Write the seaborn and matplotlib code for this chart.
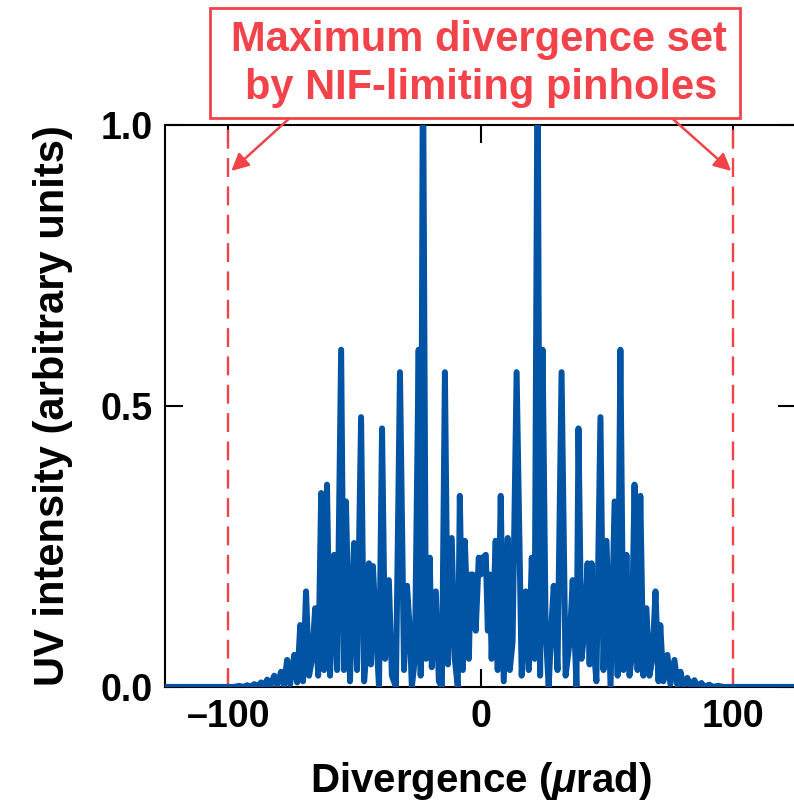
import pandas as pd
import matplotlib
matplotlib.use("Agg")
import matplotlib.pyplot as plt
import seaborn as sns
from matplotlib.patches import Rectangle

# data (divergence in urad, UV intensity)
div_left = [-125, -97.6, -95.7, -94.1, -92.5, -91.3, -89.7, -88.5, -87.0, -85.8,
            -84.6, -83.4, -81.8, -80.6, -79.1, -77.9, -76.7, -75.5, -73.9, -72.7,
            -71.5, -70.4, -69.2, -68.0, -66.8, -65.6, -64.4, -63.2, -62.1, -60.9,
            -59.7, -58.1, -56.9, -55.3, -54.2, -53.4, -51.8, -50.2, -49.0, -47.4,
            -46.2, -45.5, -44.3, -43.5, -42.7, -41.5, -40.3, -39.1, -37.9, -36.4,
            -35.2, -33.6, -32.0, -30.4, -29.2, -28.1, -27.3, -26.1, -24.6, -23.8,
            -22.9, -21.7, -20.2, -19.4, -17.8, -16.6, -15.4, -14.2, -13.0, -11.5,
            -10.3, -9.1, -8.3, -7.1, -6.3, -4.7, -4.0, -3.2, -2.0, -0.8, 0.0]
uv_left = [0.0, 0.0, 0.002, 0.0, 0.003, 0.0, 0.005, 0.0, 0.008, 0.001,
           0.013, 0.002, 0.02, 0.003, 0.027, 0.003, 0.048, 0.005, 0.057, 0.008,
           0.11, 0.01, 0.17, 0.02, 0.05, 0.14, 0.02, 0.345, 0.03, 0.36,
           0.02, 0.235, 0.03, 0.60, 0.03, 0.33, 0.01, 0.256, 0.03, 0.48,
           0.01, 0.05, 0.22, 0.04, 0.215, 0.10, 0.0, 0.46, 0.05, 0.19,
           0.02, 0.0, 0.56, 0.03, 0.18, 0.10, 0.0, 0.05, 0.60, 0.02,
           1.15, 0.05, 0.23, 0.035, 0.17, 0.01, 0.0, 0.56, 0.04, 0.265,
           0.05, 0.0, 0.34, 0.03, 0.26, 0.05, 0.20, 0.20, 0.10, 0.23, 0.20]

div_right = [0.8, 2.0, 2.8, 3.6, 4.3, 5.9, 6.7, 7.9, 9.1, 10.7,
             11.5, 12.6, 14.2, 16.2, 17.8, 19.0, 20.2, 21.3, 22.5, 23.5,
             24.5, 25.7, 26.9, 28.1, 28.9, 30.4, 32.0, 33.6, 35.2, 36.4,
             37.9, 38.7, 39.9, 41.1, 42.3, 43.1, 43.9, 45.1, 45.8, 47.4,
             48.6, 49.8, 51.4, 53.0, 54.2, 55.3, 56.5, 57.7, 58.9, 59.7,
             60.9, 62.1, 63.2, 64.4, 65.6, 66.8, 68.0, 69.2, 70.4, 71.1,
             72.3, 73.9, 75.1, 76.7, 77.9, 79.1, 80.2, 81.8, 83.0, 84.6,
             85.8, 87.4, 88.5, 90.5, 92.1, 94.1, 96.0, 125]
uv_right = [0.23, 0.235, 0.10, 0.20, 0.05, 0.26, 0.03, 0.34, 0.01, 0.265,
            0.03, 0.08, 0.56, 0.02, 0.17, 0.03, 0.23, 0.05, 1.15, 0.02,
            0.60, 0.10, 0.0, 0.12, 0.18, 0.03, 0.56, 0.02, 0.08, 0.19,
            0.0, 0.46, 0.05, 0.10, 0.22, 0.04, 0.22, 0.05, 0.01, 0.48,
            0.03, 0.26, 0.0, 0.33, 0.02, 0.60, 0.03, 0.235, 0.02, 0.05,
            0.36, 0.03, 0.34, 0.02, 0.14, 0.02, 0.05, 0.17, 0.01, 0.11,
            0.01, 0.057, 0.005, 0.048, 0.003, 0.027, 0.002, 0.016, 0.002, 0.012,
            0.001, 0.007, 0.0, 0.004, 0.0, 0.002, 0.0, 0.0]

pinhole_limits = [-100, 100]
x_ticks = [-100, 0, 100]
x_ticklabels = ["\u2013100", "0", "100"]
y_ticks = [0.0, 0.5, 1.0]
y_ticklabels = ["0.0", "0.5", "1.0"]

df = pd.DataFrame({"div": div_left + div_right, "uv": uv_left + uv_right})

BLUE = "#0153a4"
RED = "#f2434b"

sns.set_theme(style="ticks")
plt.rcParams["font.family"] = ["Liberation Sans", "DejaVu Sans"]
plt.rcParams["mathtext.fontset"] = "custom"
plt.rcParams["mathtext.it"] = "Liberation Sans:italic:bold"
plt.rcParams["mathtext.rm"] = "Liberation Sans:bold"
plt.rcParams["text.color"] = "black"
plt.rcParams["axes.labelcolor"] = "black"
plt.rcParams["xtick.color"] = "black"
plt.rcParams["ytick.color"] = "black"

fig = plt.figure(figsize=(7.94, 8.11), dpi=100)
ax = fig.add_axes([0.208, 0.153, 0.795, 0.693])

# pinhole limits
for lim in pinhole_limits:
    ax.axvline(lim, color=RED, lw=1.7, ls=(0, (8, 4)), zorder=1)

sns.lineplot(data=df, x="div", y="uv", ax=ax, color=BLUE, lw=4.3,
             estimator=None, sort=False, zorder=3)

ax.set_xlim(-125, 125)
ax.set_ylim(0, 1.0)
ax.set_xticks(x_ticks)
ax.set_xticklabels(x_ticklabels)
ax.set_yticks(y_ticks)
ax.set_yticklabels(y_ticklabels)
ax.tick_params(direction="in", length=13, width=1.5, top=True, right=True,
               labelsize=27, pad=9, color="black", labelcolor="black")
for lab in ax.get_xticklabels() + ax.get_yticklabels():
    lab.set_fontweight("bold")
for sp in ax.spines.values():
    sp.set_linewidth(1.5)
    sp.set_color("black")

ax.set_xlabel(r"Divergence ($\mu$rad)", fontsize=29, fontweight="bold", labelpad=18)
ax.set_ylabel("UV intensity (arbitrary units)", fontsize=30, fontweight="bold", labelpad=20)

# callout box
fig.patches.append(Rectangle((0.2645, 0.8545), 0.6675, 0.1356, transform=fig.transFigure,
                             fc="white", ec=RED, lw=2, zorder=5))
narrow = ["Liberation Sans Narrow", "Liberation Sans", "DejaVu Sans"]
fig.text(0.603, 0.951, "Maximum divergence set", ha="center", va="center",
         color=RED, fontsize=30, fontweight="bold", family=narrow, zorder=6)
fig.text(0.606, 0.892, "by NIF-limiting pinholes", ha="center", va="center",
         color=RED, fontsize=30, fontweight="bold", family=narrow, zorder=6)

arrow = dict(arrowstyle="-|>", color=RED, lw=1.8, mutation_scale=26, shrinkA=0, shrinkB=0)
ax.annotate("", xy=(-98.8, 0.918), xytext=(0.365, 0.8545), textcoords="figure fraction",
            arrowprops=arrow, annotation_clip=False)
ax.annotate("", xy=(99.2, 0.918), xytext=(0.846, 0.8545), textcoords="figure fraction",
            arrowprops=arrow, annotation_clip=False)

fig.savefig("out.png", dpi=100)
